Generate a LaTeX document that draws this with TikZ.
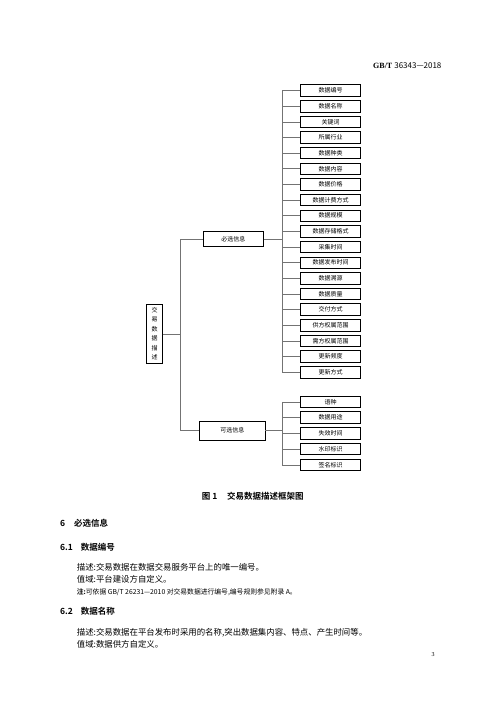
\documentclass[tikz,border=0pt]{standalone}
\usepackage{fontspec}
\setmainfont{Liberation Serif}
\newfontfamily\cjk{Noto Sans CJK SC}[BoldFont={Noto Sans CJK SC Bold}]
\begin{document}
\begin{tikzpicture}[x=1pt,y=-1pt,
  box/.style={draw=black,line width=0.8pt,inner sep=0pt,font=\cjk\fontsize{6}{7}\selectfont},
  leaf/.style={box,minimum width=60pt,minimum height=11.5pt},
  conn/.style={draw=black!55,line width=0.6pt},
  txt/.style={inner sep=0pt,anchor=west,font=\cjk\fontsize{8.4}{10}\selectfont},
  head/.style={inner sep=0pt,anchor=west,font=\cjk\bfseries\fontsize{8.5}{10}\selectfont},
  note/.style={inner sep=0pt,anchor=west,font=\cjk\fontsize{6.8}{8}\selectfont}]
\useasboundingbox (0,0) rectangle (500,707);
% header
\node[inner sep=0pt,anchor=west,font=\fontsize{8}{10}\selectfont] (hdr) at (373,65.7) {\textbf{GB/T} {\cjk 36343—2018}};
% diagram
\node[box,minimum width=15.6pt,minimum height=59pt,align=center,font=\cjk\fontsize{6}{9.5}\selectfont] (root) at (154.5,333.8) {交\\易\\数\\据\\描\\述};
\node[box,minimum width=60pt,minimum height=15.5pt] (must) at (233.3,239) {必选信息};
\node[box,minimum width=65.5pt,minimum height=19pt] (opt) at (232.3,430.4) {可选信息};
\coordinate (lb) at (180,0);
\coordinate (rb) at (282.3,0);
\draw[conn] (root.east) -- (root.east -| lb);
\draw[conn] (must.west) -- (must.west -| lb) -- (opt.west -| lb) -- (opt.west);
\foreach \t [count=\i from 0] in {数据编号,数据名称,关键词,所属行业,数据种类,数据内容,数据价格,数据计费方式,数据规模,数据存储格式,采集时间,数据发布时间,数据溯源,数据质量,交付方式,供方权属范围,需方权属范围,更新频度,更新方式}{
  \node[leaf] (m\i) at (330.7,{90.5+15.65*\i}) {\t};
  \draw[conn] (m\i.west) -- (m\i.west -| rb);
}
\draw[conn] (m0.west -| rb) -- (m18.west -| rb);
\draw[conn] (must.east) -- (must.east -| rb);
\foreach \t [count=\i from 0] in {语种,数据用途,失效时间,水印标识,签名标识}{
  \node[leaf] (o\i) at (330.7,{401.8+15.75*\i}) {\t};
  \draw[conn] (o\i.west) -- (o\i.west -| rb);
}
\draw[conn] (o0.west -| rb) -- (o4.west -| rb);
\draw[conn] (opt.east) -- (opt.east -| rb);
% caption
\node[head] (capn) at (201.7,496.7) {图 1};
\node[head] (capt) at (227,496.7) {交易数据描述框架图};
% text
\node[head] (h6n) at (60,523.3) {6};
\node[head] (h6t) at (74,523.3) {必选信息};
\node[head] (h61n) at (60,547.5) {6.1};
\node[head] (h61t) at (80.7,547.5) {数据编号};
\node[txt] (l1) at (76.7,567.5) {描述:交易数据在数据交易服务平台上的唯一编号。};
\node[txt] (l2) at (76.7,579.5) {值域:平台建设方自定义。};
\node[note] (l3) at (76.7,592) {\textbf{注:}可依据 GB/T 26231—2010 对交易数据进行编号,编号规则参见附录 A。};
\node[head] (h62n) at (60,611.7) {6.2};
\node[head] (h62t) at (80.7,611.7) {数据名称};
\node[txt] (l4) at (76.7,632.5) {描述:交易数据在平台发布时采用的名称,突出数据集内容、特点、产生时间等。};
\node[txt] (l5) at (76.7,644.5) {值域:数据供方自定义。};
\node[inner sep=0pt,font=\fontsize{6}{7}\selectfont] (pg) at (433,655) {3};
\end{tikzpicture}
\end{document}
